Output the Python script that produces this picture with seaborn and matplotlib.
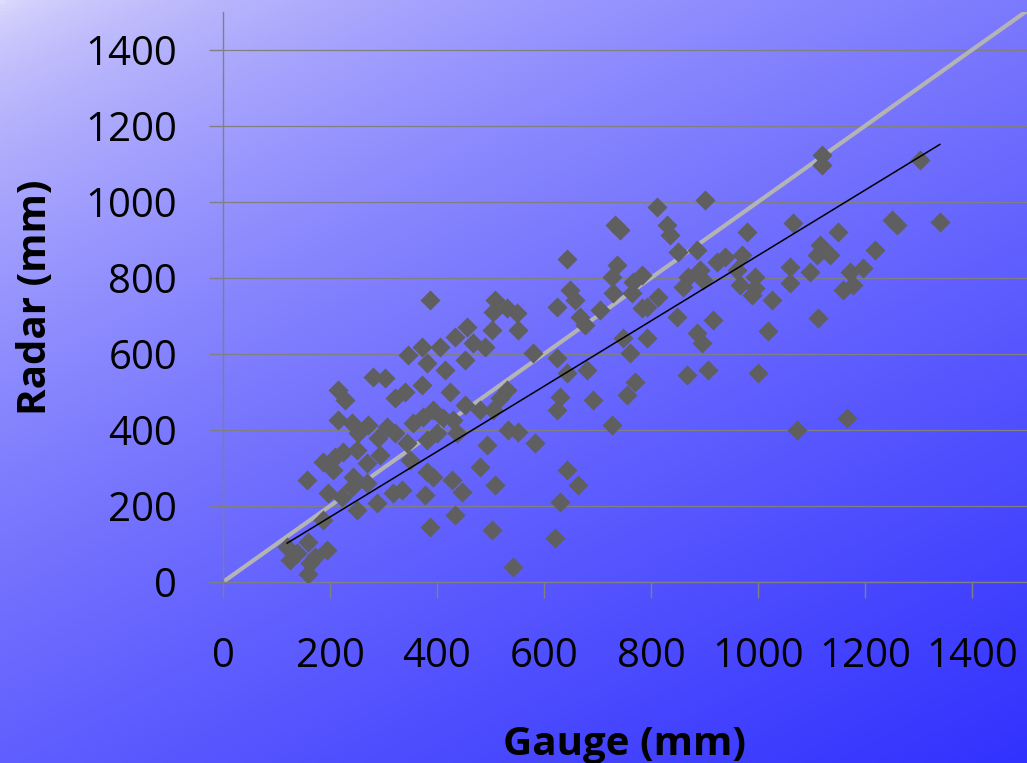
import numpy as np
import pandas as pd
import matplotlib
matplotlib.use('Agg')
import matplotlib.pyplot as plt
import seaborn as sns

# valores (mm)
gauge = [346, 372, 406, 434, 381, 415, 452, 280, 303, 215,
         228, 321, 340, 372, 424, 452, 215, 241, 271, 252,
         307, 321, 355, 374, 392, 411, 430, 344, 381, 400,
         437, 290, 293, 187, 209, 224, 250, 206, 269, 243,
         350, 381, 392, 428, 157, 196, 222, 241, 269, 288,
         250, 318, 335, 378, 447, 434, 387, 187, 120, 138,
         159, 194, 125, 163, 172, 159, 387,
         733, 742, 643, 736, 727, 783, 766, 729, 764, 811,
         649, 658, 624, 705, 783, 508, 531, 549, 505, 456, 667, 792,
         503, 551, 467, 490, 579, 624, 643, 680, 677, 748,
         792, 761, 531, 518, 480, 505, 630, 624, 692, 755,
         770, 727, 533, 551, 583, 493, 480, 508, 643, 664,
         630, 503, 621, 542,
         1120, 1120, 901, 830, 835, 979, 1065, 1150, 850, 886,
         938, 970, 1116, 1134, 1110, 892, 923, 869, 897, 961,
         994, 1060, 1097, 860, 966, 994, 1060, 1159, 989, 813,
         1026, 849, 916, 1112, 1019,
         886, 895, 867, 907, 1000, 1073, 1166,
         1303, 1250, 1260, 1340, 1219, 1196, 1172, 1178]
radar = [597, 619, 619, 645, 576, 558, 584, 540, 537, 505,
         479, 484, 500, 518, 500, 466, 426, 418, 413, 392,
         408, 392, 418, 434, 453, 432, 426, 366, 374, 392,
         392, 379, 334, 316, 329, 342, 347, 295, 313, 276,
         321, 290, 276, 268, 268, 234, 224, 250, 261, 208,
         190, 234, 242, 229, 237, 176, 145, 163, 92, 76,
         105, 84, 58, 50, 66, 20, 742,
         940, 926, 850, 834, 803, 808, 790, 761, 761, 987,
         769, 742, 724, 716, 721, 742, 721, 708, 711, 671, 697, 724,
         663, 663, 629, 619, 603, 590, 550, 558, 676, 642,
         642, 603, 505, 484, 453, 453, 487, 453, 479, 492,
         526, 413, 400, 395, 366, 361, 303, 255, 295, 255,
         211, 137, 116, 39,
         1124, 1097, 1005, 940, 913, 921, 945, 921, 868, 874,
         855, 861, 887, 861, 861, 821, 842, 803, 795, 821,
         803, 829, 816, 776, 782, 774, 787, 768, 755, 750,
         742, 697, 689, 695, 660,
         655, 629, 545, 558, 550, 400, 432,
         1111, 953, 940, 947, 874, 826, 816, 782]

ticks = [0, 200, 400, 600, 800, 1000, 1200, 1400]
identidade = [0, 1500]
# linha de tendencia: radar = a * gauge + b
tend_a = 0.86
tend_b = -1

dados = pd.DataFrame({'Gauge': gauge, 'Radar': radar})
x_tend = np.array([min(gauge), max(gauge)])
tendencia = pd.DataFrame({'Gauge': x_tend, 'Radar': tend_a * x_tend + tend_b})

plt.rcParams['font.family'] = ['Open Sans', 'DejaVu Sans']

fig = plt.figure(figsize=(10.27, 7.63), dpi=100)

# fundo em degrade (claro no canto superior esquerdo, azul forte embaixo a direita)
bg = fig.add_axes([0, 0, 1, 1], zorder=-1)
yy, xx = np.mgrid[0:1:200j, 0:1:200j]
t = 0.4 * xx + 0.6 * yy
t = t ** 0.6
c0 = np.array([224, 220, 252]) / 255
c1 = np.array([50, 50, 255]) / 255
img = c0[None, None, :] * (1 - t[..., None]) + c1[None, None, :] * t[..., None]
bg.imshow(img, aspect='auto', extent=[0, 1, 0, 1], origin='upper')
bg.set_axis_off()

ax = fig.add_axes([0.2171, 0.2372, 0.7829, 0.7471])
ax.set_facecolor('none')

ax.plot(identidade, identidade, color='#b4b4b4', lw=3, zorder=2)
sns.scatterplot(data=dados, x='Gauge', y='Radar', marker='D', s=105,
                color='#5f5f5f', linewidth=0, ax=ax, zorder=3)
sns.lineplot(data=tendencia, x='Gauge', y='Radar', color='black', lw=1.1,
             ax=ax, zorder=4)

ax.set_xlim(0, 1503)
ax.set_ylim(0, 1500)
ax.set_xticks(ticks)
ax.set_yticks(ticks)
ax.yaxis.grid(True, color='#808080', lw=0.9)
ax.set_axisbelow(True)
for s in ['top', 'right']:
    ax.spines[s].set_visible(False)
for s in ['left', 'bottom']:
    ax.spines[s].set_color('#808080')
    ax.spines[s].set_linewidth(1.0)
ax.tick_params(axis='y', direction='out', length=10, width=1.0, color='#808080',
               labelsize=29, pad=23)
ax.tick_params(axis='x', direction='out', length=11.5, width=1.0, color='#808080',
               labelsize=29, pad=28)

ax.set_xlabel('Gauge (mm)', fontsize=29, fontweight='bold', labelpad=34)
ax.set_ylabel('Radar (mm)', fontsize=29, fontweight='bold', labelpad=22)

fig.savefig('out.png', dpi=100)
